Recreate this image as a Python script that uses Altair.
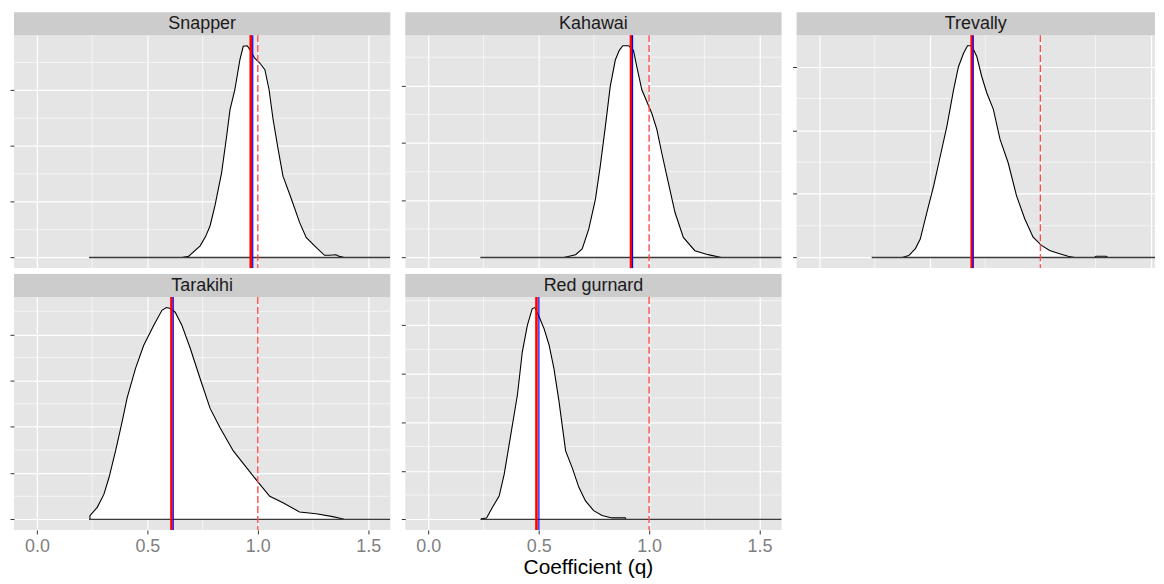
import altair as alt
import pandas as pd

SPECIES = ["Snapper", "Kahawai", "Trevally", "Tarakihi", "Red gurnard"]

SNAPPER_Q = [0.656, 0.686, 0.739, 0.764, 0.784, 0.806, 0.836, 0.859, 0.874, 0.896, 0.919, 0.934, 0.952,
             0.964, 0.985, 1.009, 1.032, 1.051, 1.069, 1.092, 1.114, 1.152, 1.189, 1.219, 1.257, 1.302,
             1.324, 1.354, 1.369, 1.392]
SNAPPER_D = [0.0, 0.02, 0.21, 0.38, 0.57, 0.93, 1.52, 2.18, 2.65, 3.01, 3.55, 3.79, 3.80,
             3.73, 3.58, 3.49, 3.37, 3.01, 2.48, 1.94, 1.46, 1.05, 0.63, 0.36, 0.21, 0.04,
             0.04, 0.05, 0.02, 0.0]

KAHAWAI_Q = [0.614, 0.667, 0.697, 0.727, 0.757, 0.779, 0.802, 0.824, 0.847, 0.865, 0.881, 0.907, 0.929,
             0.944, 0.967, 0.989, 1.012, 1.035, 1.057, 1.087, 1.117, 1.155, 1.207, 1.267, 1.327]
KAHAWAI_D = [0.0, 0.05, 0.15, 0.50, 1.02, 1.60, 2.29, 2.99, 3.45, 3.62, 3.70, 3.70, 3.62,
             3.34, 2.93, 2.73, 2.52, 2.24, 1.83, 1.31, 0.79, 0.35, 0.12, 0.05, 0.0]

TREVALLY_Q = [0.374, 0.404, 0.434, 0.456, 0.486, 0.517, 0.547, 0.577, 0.607, 0.629, 0.652, 0.670, 0.689,
              0.712, 0.734, 0.757, 0.787, 0.817, 0.854, 0.892, 0.929, 0.967, 1.005, 1.042, 1.087, 1.125,
              1.155, 1.245, 1.252, 1.297, 1.305]
TREVALLY_D = [0.0, 0.03, 0.14, 0.29, 0.71, 1.13, 1.60, 2.07, 2.64, 3.00, 3.21, 3.33, 3.33,
              3.16, 2.85, 2.59, 2.33, 1.86, 1.49, 0.97, 0.61, 0.32, 0.19, 0.11, 0.06, 0.02,
              0.0, 0.0, 0.02, 0.02, 0.0]

TARAKIHI_Q = [0.240, 0.240, 0.273, 0.303, 0.326, 0.356, 0.386, 0.408, 0.446, 0.483, 0.529, 0.566, 0.586,
              0.604, 0.626, 0.656, 0.694, 0.739, 0.784, 0.829, 0.889, 0.949, 1.002, 1.054, 1.114, 1.189,
              1.264, 1.339, 1.377, 1.390]
TARAKIHI_D = [0.0, 0.04, 0.13, 0.27, 0.45, 0.74, 1.06, 1.31, 1.63, 1.88, 2.10, 2.26, 2.29,
              2.28, 2.24, 2.10, 1.85, 1.52, 1.20, 0.99, 0.74, 0.56, 0.40, 0.25, 0.18, 0.08,
              0.06, 0.03, 0.01, 0.0]

REDGURNARD_Q = [0.239, 0.264, 0.291, 0.321, 0.344, 0.374, 0.404, 0.426, 0.449, 0.471, 0.483, 0.502, 0.524,
                0.547, 0.569, 0.592, 0.622, 0.652, 0.682, 0.712, 0.749, 0.787, 0.832, 0.892, 0.895]
REDGURNARD_D = [0.01, 0.03, 0.25, 0.48, 0.93, 1.75, 2.57, 3.45, 4.00, 4.34, 4.36, 4.17, 3.93,
                3.59, 3.11, 2.43, 1.41, 1.06, 0.66, 0.38, 0.18, 0.08, 0.03, 0.03, 0.0]

CURVES_Q = [SNAPPER_Q, KAHAWAI_Q, TREVALLY_Q, TARAKIHI_Q, REDGURNARD_Q]
CURVES_D = [SNAPPER_D, KAHAWAI_D, TREVALLY_D, TARAKIHI_D, REDGURNARD_D]

MEAN_Q = [0.968, 0.918, 0.689, 0.609, 0.490]     # solid red line
MEDIAN_Q = [0.977, 0.925, 0.696, 0.617, 0.501]   # solid blue line
REF_Q = 1.0                                      # dashed red line
BASE_START = 0.236
X_MAJOR = [0.0, 0.5, 1.0, 1.5]
X_MINOR = [0.25, 0.75, 1.25]
Y_STEP = [1, 1, 1, 0.5, 1]
X_DOMAIN = [-0.104, 1.6]

FONT = "Liberation Sans"
PANEL_W = 378
PANEL_H = 234
STRIP_H = 23


def panel(i, width, xmax, show_x):
    name = SPECIES[i]
    qs, ds = CURVES_Q[i], CURVES_D[i]
    df = pd.DataFrame({"q": qs, "density": ds, "ord": list(range(len(qs)))})
    ymax = max(ds)
    ydom = [-0.05 * ymax, 1.05 * ymax]
    step = Y_STEP[i]
    n = int(ymax / step + 1e-9)
    yticks = [k * step for k in range(n + 1)]
    yminor = [(k + 0.5) * step for k in range(-1, n + 1) if ydom[0] <= (k + 0.5) * step <= ydom[1]]

    xscale = alt.Scale(domain=[X_DOMAIN[0], xmax], nice=False, zero=False)
    yscale = alt.Scale(domain=ydom, nice=False, zero=False)
    if show_x:
        xaxis = alt.Axis(values=X_MAJOR, format=".1f", title=None, grid=True, gridColor="white",
                         gridWidth=1.2, domain=False, ticks=True, tickSize=4, tickColor="#333333",
                         labelColor="#7F7F7F", labelFontSize=18, labelFont=FONT, labelPadding=4,
                         minExtent=0)
    else:
        xaxis = alt.Axis(values=X_MAJOR, title=None, grid=True, gridColor="white", gridWidth=1.2,
                         domain=False, ticks=False, labels=False, minExtent=0)
    yaxis = alt.Axis(values=yticks, title=None, grid=True, gridColor="white", gridWidth=1.2,
                     domain=False, ticks=True, tickSize=4, tickColor="#333333", labels=False,
                     minExtent=0)
    X = alt.X("q:Q", scale=xscale, axis=xaxis)
    Y = alt.Y("density:Q", scale=yscale, axis=yaxis)

    lab = pd.DataFrame({"species": [name]})
    strip = alt.Chart(lab).mark_rect(color="#CCCCCC").encode(
        x=alt.value(0), x2=alt.value(width), y=alt.value(-STRIP_H), y2=alt.value(0))
    strip_text = alt.Chart(lab).mark_text(font=FONT, fontSize=18, color="#1A1A1A",
                                          baseline="middle", align="center").encode(
        x=alt.value(width / 2), y=alt.value(-STRIP_H / 2 + 0.5), text="species:N")

    minor_x = alt.Chart(pd.DataFrame({"q": X_MINOR})).mark_rule(
        color="white", strokeWidth=0.6).encode(x=X)
    minor_y = alt.Chart(pd.DataFrame({"density": yminor})).mark_rule(
        color="white", strokeWidth=0.6).encode(y=Y)

    area = alt.Chart(df).mark_area(color="white", clip=True, opacity=1).encode(x=X, y=Y)
    line = alt.Chart(df).mark_line(color="black", strokeWidth=1.1, clip=True).encode(
        x=X, y=Y, order="ord:Q")
    base = alt.Chart(pd.DataFrame({"q": [BASE_START], "q2": [xmax], "density": [0.0]})).mark_rule(
        color="#3A3A3A", strokeWidth=1.4, clip=True).encode(x=X, x2="q2:Q", y=Y)
    ref = alt.Chart(pd.DataFrame({"q": [REF_Q]})).mark_rule(
        color="#FF4D4D", strokeWidth=1.4, strokeDash=[7, 3]).encode(x=X)
    mean = alt.Chart(pd.DataFrame({"q": [MEAN_Q[i]]})).mark_rule(
        color="#FF0000", strokeWidth=2.6).encode(x=X)
    med = alt.Chart(pd.DataFrame({"q": [MEDIAN_Q[i]]})).mark_rule(
        color="#0000FF", strokeWidth=1.2).encode(x=X)

    return alt.layer(strip, strip_text, minor_x, minor_y, area, line, base, ref, mean, med).properties(
        width=width, height=PANEL_H)


trev_w = 360
trev_xmax = X_DOMAIN[0] + trev_w * (X_DOMAIN[1] - X_DOMAIN[0]) / PANEL_W

row1 = alt.hconcat(
    panel(0, PANEL_W, X_DOMAIN[1], False),
    panel(1, PANEL_W, X_DOMAIN[1], False),
    panel(2, trev_w, trev_xmax, False),
    spacing=9,
)
row2 = alt.hconcat(
    panel(3, PANEL_W, X_DOMAIN[1], True),
    panel(4, PANEL_W, X_DOMAIN[1], True),
    spacing=9,
)

chart = alt.vconcat(row1, row2, spacing=4).properties(
    title=alt.TitleParams("Coefficient (q)", orient="bottom", anchor="middle", fontSize=21,
                          font=FONT, fontWeight="normal", color="black", offset=1, dx=6),
    padding={"left": 1, "top": 3, "right": 0, "bottom": 0},
    background="white",
).configure_view(fill="#E5E5E5", stroke=None)

chart.save("out.html", embed_options={"renderer": "svg", "actions": False})
